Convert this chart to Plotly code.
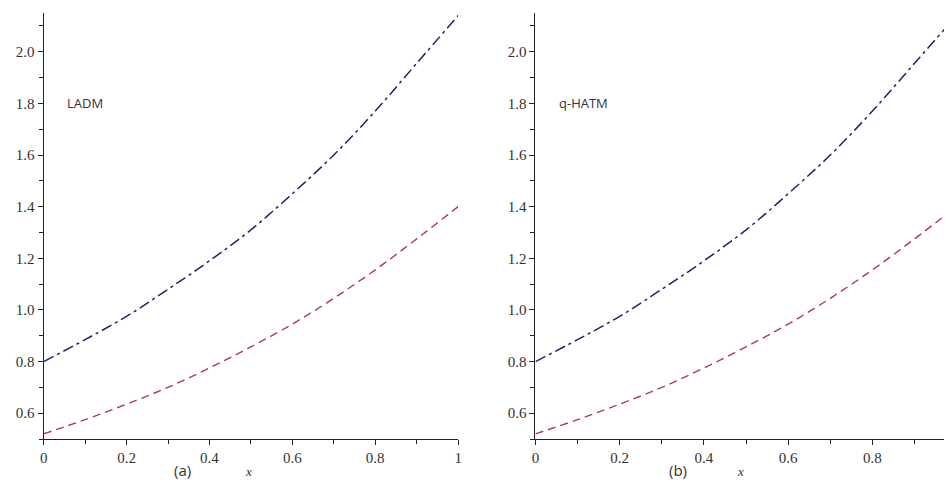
import plotly.graph_objects as go

x_vals = [0.0, 0.1, 0.2, 0.3, 0.4, 0.5, 0.6, 0.7, 0.8, 0.9, 1.0]
upper_ladm = [0.80, 0.885, 0.975, 1.08, 1.19, 1.31, 1.45, 1.60, 1.77, 1.955, 2.14]
lower_ladm = [0.52, 0.575, 0.635, 0.70, 0.775, 0.857, 0.945, 1.045, 1.155, 1.275, 1.40]
upper_hatm = [0.80, 0.885, 0.975, 1.08, 1.19, 1.31, 1.45, 1.60, 1.77, 1.955, 2.14]
lower_hatm = [0.52, 0.575, 0.635, 0.70, 0.775, 0.857, 0.945, 1.045, 1.155, 1.275, 1.40]
panel_labels = ["LADM", "q-HATM"]
panel_tags = ["(a)", "(b)"]

W, H = 948, 481
BLUE = "#22226e"
RED = "#b23a48"
blue_dash = "11px,4px,3px,4px"
red_dash = "8px,5px"

fig = go.Figure()
for i, (up, lo) in enumerate([(upper_ladm, lower_ladm), (upper_hatm, lower_hatm)]):
    xa = "x" if i == 0 else "x2"
    ya = "y" if i == 0 else "y2"
    fig.add_trace(go.Scatter(x=x_vals, y=up, mode="lines", line=dict(color=BLUE, width=1.5, dash=blue_dash, shape="spline"), xaxis=xa, yaxis=ya, showlegend=False))
    fig.add_trace(go.Scatter(x=x_vals, y=lo, mode="lines", line=dict(color=RED, width=1.4, dash=red_dash, shape="spline"), xaxis=xa, yaxis=ya, showlegend=False))

tickfont = dict(family="Liberation Serif", size=15, color="#333")
ydom = [1 - 439 / H, 1 - 13 / H]
common_x = dict(showline=True, linecolor="#222", linewidth=1.2, ticks="outside", ticklen=5, tickcolor="#222",
                dtick=0.2, tick0=0, showgrid=False, zeroline=False, tickfont=tickfont,
                minor=dict(ticks="outside", dtick=0.1, ticklen=4, tickcolor="#222", showgrid=False))
common_y = dict(showline=True, linecolor="#222", linewidth=1.2, ticks="outside", ticklen=5, tickcolor="#222",
                dtick=0.2, tick0=0, showgrid=False, zeroline=False, tickfont=tickfont, tickformat=".1f",
                range=[0.5, 2.15], domain=ydom,
                minor=dict(ticks="outside", dtick=0.1, ticklen=4, tickcolor="#222", showgrid=False))

fig.update_layout(
    width=W, height=H, margin=dict(l=0, r=0, t=0, b=0),
    plot_bgcolor="white", paper_bgcolor="white",
    xaxis=dict(domain=[40 / W, 458 / W], range=[0, 1], anchor="y", **common_x),
    yaxis=dict(anchor="x", **common_y),
    xaxis2=dict(domain=[536 / W, 1.0], range=[0, 0.97], anchor="y2", **common_x),
    yaxis2=dict(anchor="x2", **common_y),
)

ann_font = dict(family="Open Sans", size=13, color="#333")
fig.add_annotation(x=62 / W, y=1 - 103 / H, xref="paper", yref="paper", text=panel_labels[0], showarrow=False, xanchor="left", yanchor="middle", font=ann_font)
fig.add_annotation(x=558 / W, y=1 - 103 / H, xref="paper", yref="paper", text=panel_labels[1], showarrow=False, xanchor="left", yanchor="middle", font=ann_font)
tag_font = dict(family="Open Sans", size=15, color="#333")
fig.add_annotation(x=180 / W, y=0, xref="paper", yref="paper", text=panel_tags[0], showarrow=False, xanchor="center", yanchor="bottom", borderpad=0, font=tag_font)
fig.add_annotation(x=680 / W, y=0, xref="paper", yref="paper", text=panel_tags[1], showarrow=False, xanchor="center", yanchor="bottom", borderpad=0, font=tag_font)
fig.add_annotation(x=247 / W, y=1 - 471 / H, xref="paper", yref="paper", text="<i>x</i>", showarrow=False, xanchor="center", yanchor="middle", font=dict(family="Liberation Serif", size=13, color="#333"))
fig.add_annotation(x=743 / W, y=1 - 471 / H, xref="paper", yref="paper", text="<i>x</i>", showarrow=False, xanchor="center", yanchor="middle", font=dict(family="Liberation Serif", size=13, color="#333"))

fig.write_html("out.html")
